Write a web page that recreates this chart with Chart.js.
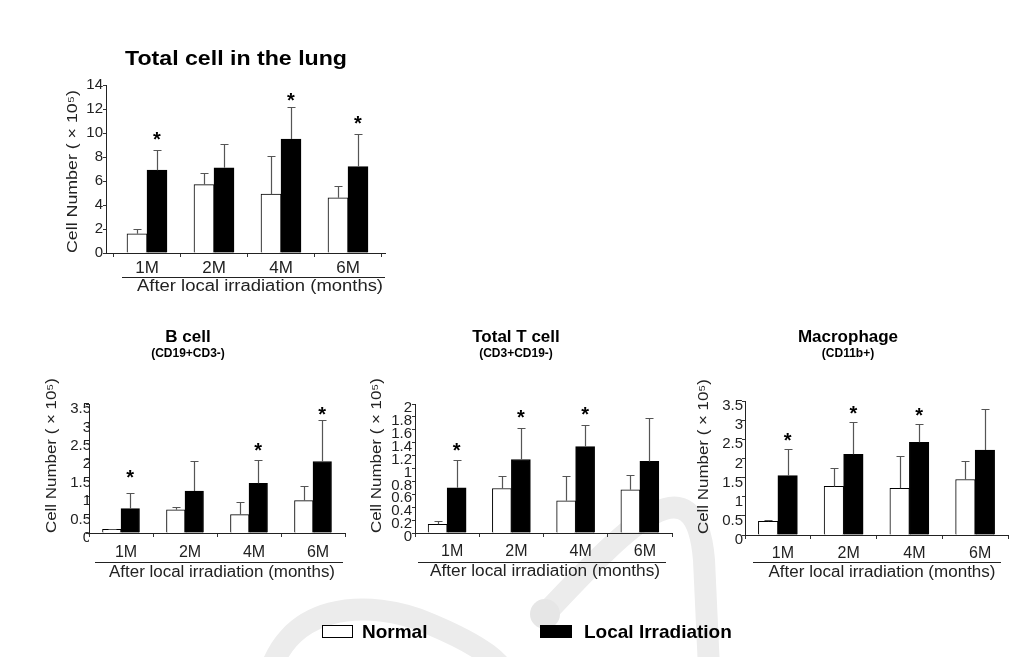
<!DOCTYPE html>
<html><head><meta charset="utf-8">
<script src="https://cdn.jsdelivr.net/npm/chart.js@4.4.0/dist/chart.umd.min.js"></script>
<style>
html,body{margin:0;padding:0;background:#fff;}
#wrap{position:relative;width:1024px;height:657px;overflow:hidden;background:#fff;}
canvas{position:absolute;left:0;top:0;}
.lg{position:absolute;font:bold 19px "Liberation Sans",Arial,sans-serif;line-height:19px;color:#000;white-space:nowrap;}
.box{position:absolute;box-sizing:border-box;border:1px solid #000;}
</style></head><body>
<div id="wrap">
<canvas id="c0" width="1024" height="657"></canvas>
<canvas id="c1" width="1024" height="657"></canvas>
<canvas id="c2" width="1024" height="657"></canvas>
<canvas id="c3" width="1024" height="657"></canvas>
<div class="box" style="left:322px;top:625px;width:31px;height:13px;background:#fff"></div>
<div class="lg" id="lg0" style="left:362px;top:621.7px"></div>
<div class="box" style="left:540px;top:625px;width:32px;height:13px;background:#000"></div>
<div class="lg" id="lg1" style="left:584px;top:621.7px"></div>
</div>
<script>
// ---- data ----
const months = ['1M', '2M', '4M', '6M'];
const seriesNames = ['Normal', 'Local Irradiation'];

const totalNormal   = [1.6, 5.7, 4.9, 4.6];
const totalNormalSD = [0.4, 1.0, 3.2, 1.0];
const totalIrr      = [6.9, 7.1, 9.5, 7.2];
const totalIrrSD    = [1.7, 1.95, 2.7, 2.7];
const totalStars    = [9.9, null, 13.1, 11.2];
const totalYTicks   = [0, 2, 4, 6, 8, 10, 12, 14];

const bNormal   = [0.1, 0.63, 0.5, 0.88];
const bNormalSD = [0.02, 0.08, 0.33, 0.40];
const bIrr      = [0.66, 1.14, 1.35, 1.94];
const bIrrSD    = [0.43, 0.80, 0.62, 1.12];
const bStars    = [1.63, null, 2.36, 3.34];
const bYTicks   = [0, 0.5, 1, 1.5, 2, 2.5, 3, 3.5];

const tNormal   = [0.135, 0.69, 0.5, 0.67];
const tNormalSD = [0.055, 0.2, 0.38, 0.23];
const tIrr      = [0.70, 1.14, 1.34, 1.11];
const tIrrSD    = [0.43, 0.49, 0.33, 0.68];
const tStars    = [1.36, 1.87, 1.91, null];
const tYTicks   = [0, 0.2, 0.4, 0.6, 0.8, 1, 1.2, 1.4, 1.6, 1.8, 2];

const mNormal   = [0.36, 1.27, 1.22, 1.45];
const mNormalSD = [0.02, 0.47, 0.85, 0.47];
const mIrr      = [1.55, 2.11, 2.42, 2.22];
const mIrrSD    = [0.70, 0.84, 0.47, 1.06];
const mStars    = [2.6, 3.29, 3.24, null];
const mYTicks   = [0, 0.5, 1, 1.5, 2, 2.5, 3, 3.5];

const yTitle = 'Cell Number ( \u00d7 10\u2075)';
const xTitle = 'After local irradiation (months)';

// ---- drawing helpers ----
const FONT = '"Liberation Sans", Arial, Helvetica, sans-serif';

function txt(ctx, s, x, y, font, opt) {
  opt = opt || {};
  ctx.save();
  ctx.font = font;
  ctx.fillStyle = opt.color || '#000';
  ctx.textBaseline = 'middle';
  ctx.textAlign = opt.align || 'center';
  let sx = opt.sx || 1;
  if (opt.w) sx = opt.w / ctx.measureText(s).width;
  ctx.translate(x, y);
  if (opt.rot) ctx.rotate(opt.rot);
  ctx.scale(sx, 1);
  ctx.fillText(s, 0, 0);
  ctx.restore();
}

function drawWatermark(ctx) {
  ctx.save();
  ctx.strokeStyle = '#ececec';
  ctx.lineCap = 'round';
  ctx.lineWidth = 22;
  ctx.beginPath();
  ctx.moveTo(266, 690);
  ctx.bezierCurveTo(280, 600, 370, 598, 430, 624);
  ctx.bezierCurveTo(480, 645, 505, 662, 515, 690);
  ctx.stroke();
  ctx.beginPath();
  ctx.moveTo(545, 614);
  ctx.bezierCurveTo(620, 535, 695, 450, 704, 560);
  ctx.lineTo(710, 690);
  ctx.stroke();
  ctx.fillStyle = '#e6e6e6';
  ctx.beginPath();
  ctx.arc(545, 614, 15, 0, Math.PI * 2);
  ctx.fill();
  ctx.restore();
}

function decor(cfg) {
  return {
    id: 'decor_' + cfg.id,
    afterLayout(chart) {
      if (cfg.inset) {
        const s = chart.scales.x;
        s._startPixel = s.left + cfg.inset[0];
        s._endPixel = s.right - cfg.inset[1];
        s._length = s._endPixel - s._startPixel;
      }
    },
    beforeDraw(chart) {
      if (cfg.watermark) drawWatermark(chart.ctx);
    },
    afterDatasetsDraw(chart) {
      const ctx = chart.ctx, y = chart.scales.y;
      const sds = [cfg.normalSD, cfg.irrSD];
      ctx.save();
      ctx.strokeStyle = '#555';
      ctx.lineWidth = 1.2;
      chart.data.datasets.forEach((ds, di) => {
        const meta = chart.getDatasetMeta(di);
        meta.data.forEach((bar, i) => {
          const x = Math.round(bar.x) + 0.5;
          const top = Math.round(y.getPixelForValue(ds.data[i] + sds[di][i])) + 0.5;
          ctx.beginPath();
          ctx.moveTo(x, bar.y);
          ctx.lineTo(x, top);
          ctx.moveTo(x - 4, top);
          ctx.lineTo(x + 4, top);
          ctx.stroke();
        });
      });
      ctx.restore();
      // significance asterisks
      const meta = chart.getDatasetMeta(1);
      ctx.save();
      ctx.font = 'bold 20px ' + FONT;
      ctx.fillStyle = '#000';
      ctx.textAlign = 'center';
      ctx.textBaseline = 'alphabetic';
      cfg.stars.forEach((v, i) => {
        if (v == null) return;
        ctx.fillText('*', meta.data[i].x, y.getPixelForValue(v) + 0.57 * 20);
      });
      ctx.restore();
    },
    afterDraw(chart) {
      const ctx = chart.ctx;
      const t = cfg.title;
      txt(ctx, t.text, t.x, t.y, 'bold ' + t.size + 'px ' + FONT, {sx: t.sx, w: t.w});
      if (cfg.sub) {
        const u = cfg.sub;
        txt(ctx, u.text, u.x, u.y, 'bold ' + u.size + 'px ' + FONT, {sx: u.sx});
      }
      const c = cfg.cap;
      ctx.save();
      ctx.strokeStyle = '#222';
      ctx.lineWidth = 1;
      ctx.beginPath();
      ctx.moveTo(c.x1, c.lineY);
      ctx.lineTo(c.x2, c.lineY);
      ctx.stroke();
      ctx.restore();
      txt(ctx, xTitle, c.textX, c.textY, c.size + 'px ' + FONT, {w: c.textW, color: '#222'});
      const yt = cfg.ytitle;
      txt(ctx, yTitle, yt.x, yt.y0, yt.size + 'px ' + FONT, {w: yt.len, color: '#222', align: 'left', rot: -Math.PI / 2});
    }
  };
}

function makeChart(cfg) {
  return new Chart(document.getElementById(cfg.id), {
    type: 'bar',
    data: {
      labels: months,
      datasets: [
        {label: seriesNames[0], data: cfg.normal, backgroundColor: '#ffffff', borderColor: '#000', borderWidth: 1, barThickness: cfg.barW},
        {label: seriesNames[1], data: cfg.irr, backgroundColor: '#000000', borderColor: '#000', borderWidth: 1, barThickness: cfg.barW}
      ]
    },
    options: {
      responsive: false,
      animation: false,
      events: [],
      layout: {padding: {left: 0, top: cfg.area.top, right: 1024 - cfg.area.right, bottom: 0}},
      plugins: {legend: {display: false}, tooltip: {enabled: false}, title: {display: false}},
      scales: {
        x: {
          type: 'category',
          offset: true,
          grid: {display: true, drawOnChartArea: false, drawTicks: true, tickLength: 4, color: '#333', offset: true},
          border: {display: true, color: '#222', width: 1},
          ticks: {font: {family: FONT, size: cfg.xFont}, color: '#222', padding: cfg.xPad, labelOffset: cfg.xLabelOffset, maxRotation: 0, autoSkip: false},
          afterFit: s => { s.height = 657 - cfg.area.bottom; }
        },
        y: {
          min: 0,
          max: cfg.yTicks[cfg.yTicks.length - 1],
          afterBuildTicks: s => { s.ticks = cfg.yTicks.map(v => ({value: v})); },
          grid: {display: true, drawOnChartArea: false, drawTicks: true, tickLength: 3, color: '#333'},
          border: {display: true, color: '#222', width: 1},
          ticks: {font: {family: FONT, size: 15}, color: '#222', padding: cfg.yPad, labelOffset: cfg.yLabelOffset, autoSkip: false, callback: v => String(v)},
          afterFit: s => { s.width = cfg.area.left; }
        }
      }
    },
    plugins: [decor(cfg)]
  });
}

document.getElementById('lg0').textContent = seriesNames[0];
document.getElementById('lg1').textContent = seriesNames[1];

makeChart({
  id: 'c0', watermark: true,
  normal: totalNormal, normalSD: totalNormalSD, irr: totalIrr, irrSD: totalIrrSD, stars: totalStars, yTicks: totalYTicks,
  area: {left: 106, right: 385, top: 85, bottom: 253}, inset: [7.5, 3.5],
  barW: 20, xFont: 17, xPad: 1.5, xLabelOffset: 0, yPad: 0, yLabelOffset: 0,
  title: {text: 'Total cell in the lung', x: 236, y: 59.5, size: 20, w: 222},
  cap: {lineY: 277.5, x1: 122, x2: 385, textX: 260, textY: 287, textW: 246, size: 16},
  ytitle: {x: 73, y0: 253, len: 163, size: 15}
});
makeChart({
  id: 'c1',
  normal: bNormal, normalSD: bNormalSD, irr: bIrr, irrSD: bIrrSD, stars: bStars, yTicks: bYTicks,
  area: {left: 89, right: 345, top: 404, bottom: 533},
  barW: 18.5, xFont: 16, xPad: 5.5, xLabelOffset: 5, yPad: -5, yLabelOffset: 5,
  title: {text: 'B cell', x: 188, y: 337, size: 17},
  sub: {text: '(CD19+CD3-)', x: 188, y: 354, size: 12},
  cap: {lineY: 562.5, x1: 95, x2: 343, textX: 222, textY: 573, textW: 226, size: 16},
  ytitle: {x: 52, y0: 533, len: 155, size: 15}
});
makeChart({
  id: 'c2',
  normal: tNormal, normalSD: tNormalSD, irr: tIrr, irrSD: tIrrSD, stars: tStars, yTicks: tYTicks,
  area: {left: 415, right: 672, top: 404, bottom: 533},
  barW: 19, xFont: 16, xPad: 5, xLabelOffset: 5, yPad: 0, yLabelOffset: 4,
  title: {text: 'Total T cell', x: 516, y: 337, size: 17},
  sub: {text: '(CD3+CD19-)', x: 516, y: 354, size: 12},
  cap: {lineY: 562.5, x1: 418, x2: 666, textX: 545, textY: 572, textW: 230, size: 16},
  ytitle: {x: 377, y0: 533, len: 155, size: 15}
});
makeChart({
  id: 'c3',
  normal: mNormal, normalSD: mNormalSD, irr: mIrr, irrSD: mIrrSD, stars: mStars, yTicks: mYTicks,
  area: {left: 745, right: 1008, top: 401, bottom: 535},
  barW: 19.5, xFont: 16, xPad: 5, xLabelOffset: 5, yPad: -1, yLabelOffset: 5,
  title: {text: 'Macrophage', x: 848, y: 337, size: 17},
  sub: {text: '(CD11b+)', x: 848, y: 354, size: 12},
  cap: {lineY: 562.5, x1: 753, x2: 1001, textX: 882, textY: 573, textW: 227, size: 16},
  ytitle: {x: 704, y0: 534, len: 155, size: 15}
});
</script>
</body></html>
